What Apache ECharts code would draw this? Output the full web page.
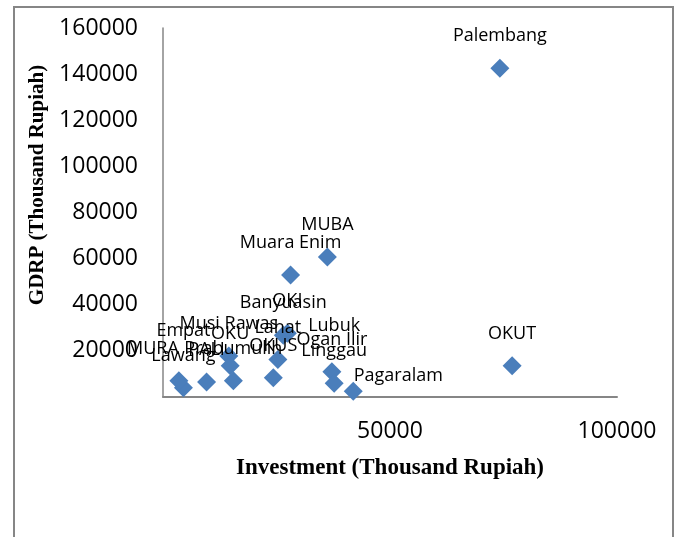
<!DOCTYPE html>
<html>
<head>
<meta charset="utf-8">
<script src="https://cdn.jsdelivr.net/npm/echarts@6/dist/echarts.min.js"></script>
<style>
  html, body { margin: 0; padding: 0; background: #fff; }
  #chart { width: 675px; height: 537px; }
</style>
</head>
<body>
<div id="chart"></div>
<script>
// regions, investment (x) and GDRP (y), thousand rupiah
var regions = ['Palembang', 'OKUT', 'MUBA', 'Muara Enim', 'Banyuasin', 'OKI',
  'Musi Rawas', 'OKU', 'Lahat', 'OKUS', 'Ogan Ilir', 'Lubuk\nLinggau',
  'Pagaralam', 'Empat\nLawang', 'MURA', 'PALI', 'Prabumulih'];
var investment = [74200, 76900, 36200, 28100, 26500, 27400,
  14500, 14800, 25300, 24300, 37200, 37700,
  41900, 4500, 3500, 9600, 15500];
var gdrp = [142500, 13600, 60700, 52900, 26800, 27600,
  17800, 13600, 16300, 8400, 11000, 6000,
  2500, 4000, 7000, 6500, 7000];

var xTicks = [50000, 100000];
var yTicks = [20000, 40000, 60000, 80000, 100000, 120000, 140000, 160000];

var points = [];
for (var i = 0; i < regions.length; i++) {
  var p = { name: regions[i], value: [investment[i], gdrp[i]] };
  if (regions[i] == 'Pagaralam') {
    p.label = { position: 'right', offset: [-19, -15] };
  }
  if (regions[i] == 'MURA') {
    p.label = { offset: [-26, 0] };
  }
  points.push(p);
}

var myChart = echarts.init(document.getElementById('chart'));
var option = {
  animation: false,
  grid: { left: 163, right: 58, top: 28, bottom: 140 },
  xAxis: {
    type: 'value',
    min: 0, max: 100000, interval: 50000,
    splitLine: { show: false },
    axisTick: { show: false },
    axisLine: { lineStyle: { color: '#868686', width: 2 } },
    axisLabel: {
      margin: 23,
      fontFamily: 'Open Sans', fontSize: 23, color: '#000',
      formatter: function (v) { return xTicks.indexOf(v) >= 0 ? String(v) : ''; }
    },
    name: 'Investment (Thousand Rupiah)',
    nameLocation: 'middle',
    nameGap: 60,
    nameTextStyle: { fontFamily: 'Liberation Serif', fontWeight: 'bold', fontSize: 23, color: '#000' }
  },
  yAxis: {
    type: 'value',
    min: 0, max: 160000, interval: 20000,
    splitLine: { show: false },
    axisTick: { show: false },
    axisLine: { show: true, lineStyle: { color: '#868686', width: 1.5 } },
    axisLabel: {
      margin: 25,
      fontFamily: 'Open Sans', fontSize: 23, color: '#000',
      formatter: function (v) { return yTicks.indexOf(v) >= 0 ? String(v) : ''; }
    }
  },
  graphic: [
    {
      type: 'rect',
      shape: { x: 14, y: 7, width: 659, height: 540 },
      style: { fill: null, stroke: '#868686', lineWidth: 2 }
    },
    {
      type: 'text',
      x: 38, y: 185,
      rotation: Math.PI / 2,
      style: {
        text: 'GDRP (Thousand Rupiah)',
        fontFamily: 'Liberation Serif', fontWeight: 'bold', fontSize: 21,
        fill: '#000', align: 'center', verticalAlign: 'middle'
      }
    }
  ],
  series: [
    {
      type: 'scatter',
      symbol: 'diamond',
      symbolSize: 19,
      itemStyle: { color: '#4a7ebb', opacity: 1 },
      label: {
        show: true,
        position: 'top',
        distance: 10,
        formatter: '{b}',
        fontFamily: 'Open Sans', fontSize: 18, lineHeight: 25, color: '#000'
      },
      data: points
    }
  ]
};
myChart.setOption(option);
</script>
</body>
</html>
